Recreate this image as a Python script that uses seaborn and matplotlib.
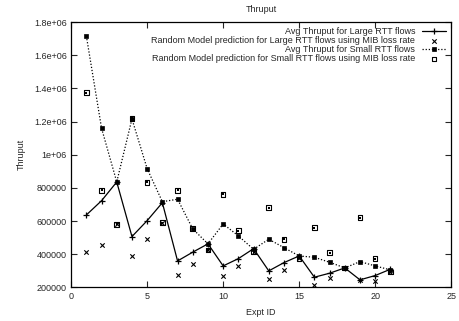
import numpy as np
import pandas as pd
import matplotlib
matplotlib.use("Agg")
import matplotlib.pyplot as plt
import seaborn as sns

expt_id = list(range(1, 22))

large_avg = [637000, 723000, 836000, 507000, 603000, 711000, 360000, 413000, 463000, 330000, 374000,
             434000, 300000, 350000, 390000, 262000, 286000, 318000, 246000, 272000, 310000]
large_pred = [413000, 457000, 581000, 392000, 491000, 591000, 274000, 340000, 426000, 270000, 332000,
              416000, 252000, 306000, 376000, 216000, 260000, 318000, 246000, 242000, 294000]
small_avg = [1716000, 1160000, 836000, 1216000, 916000, 717000, 732000, 553000, 463000, 583000, 511000,
             430000, 491000, 440000, 390000, 382000, 352000, 318000, 356000, 330000, 306000]
small_pred = [1374000, 786000, 581000, 1220000, 834000, 591000, 786000, 555000, 426000, 762000, 543000,
              416000, 681000, 491000, 376000, 561000, 410000, 318000, 621000, 374000, 294000]

yticks = [200000, 400000, 600000, 800000, 1000000, 1200000, 1400000, 1600000, 1800000]
ytick_labels = ["200000", "400000", "600000", "800000", "1e+06", "1.2e+06", "1.4e+06", "1.6e+06", "1.8e+06"]

df = pd.DataFrame({"Expt ID": expt_id, "large_avg": large_avg, "large_pred": large_pred,
                   "small_avg": small_avg, "small_pred": small_pred})

sns.set_style("ticks")
plt.rcParams["font.family"] = ["Liberation Sans", "DejaVu Sans"]
plt.rcParams["font.size"] = 6.5

fig = plt.figure(figsize=(4.59, 3.21), dpi=100)
ax = fig.add_axes([0.155, 0.1044, 0.828, 0.827])

sns.lineplot(data=df, x="Expt ID", y="large_avg", ax=ax, color="black", lw=0.9, marker="+",
             markersize=4, markeredgewidth=0.9, markeredgecolor="black",
             label="Avg Thruput for Large RTT flows")
sns.scatterplot(data=df, x="Expt ID", y="large_pred", ax=ax, color="black", marker="x", s=10,
                linewidth=0.8, label="Random Model prediction for Large RTT flows using MIB loss rate")
sns.lineplot(data=df, x="Expt ID", y="small_avg", ax=ax, color="black", lw=0.9, ls=(0, (1, 1.5)),
             marker="s", markersize=3, markeredgewidth=0.5, markeredgecolor="black",
             label="Avg Thruput for Small RTT flows")
sns.scatterplot(data=df, x="Expt ID", y="small_pred", ax=ax, marker="s", s=11, facecolor="none",
                edgecolor="black", linewidth=0.8,
                label="Random Model prediction for Small RTT flows using MIB loss rate")
# small dot inside the open squares, as in the original
sns.scatterplot(data=df, x="Expt ID", y="small_pred", ax=ax, marker="s", s=1.5, color="black",
                linewidth=0, legend=False)

ax.set_xlim(0, 25)
ax.set_ylim(200000, 1800000)
ax.set_xticks([0, 5, 10, 15, 20, 25])
ax.set_yticks(yticks)
ax.set_yticklabels(ytick_labels)
ax.tick_params(direction="in", top=True, right=True, length=4, width=0.8, labelsize=6.5, pad=3)
for s in ax.spines.values():
    s.set_linewidth(0.9)
    s.set_color("black")

ax.set_xlabel("Expt ID", fontsize=6.5, labelpad=5)
ax.set_ylabel("Thruput", fontsize=6.5, labelpad=6)
ax.set_title("Thruput", fontsize=6.5, pad=7)

ax.legend(loc="upper right", frameon=False, markerfirst=False, fontsize=6.5, handlelength=2.6,
          labelspacing=0.0, borderaxespad=0.2, handletextpad=0.8)

fig.savefig("out.png", dpi=100)
